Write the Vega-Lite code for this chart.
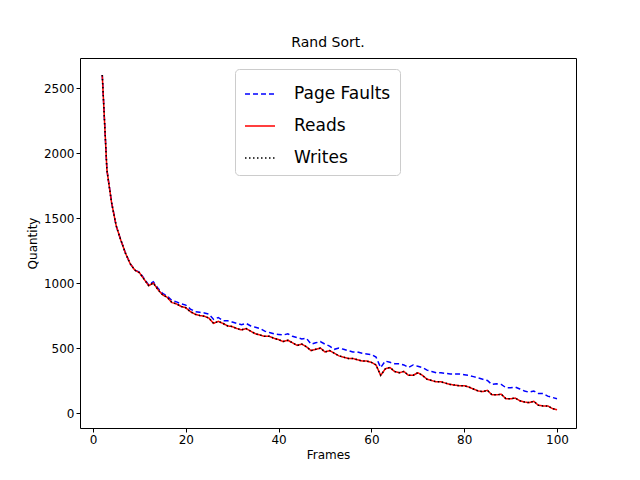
{
  "$schema": "https://vega.github.io/schema/vega-lite/v6.json",
  "autosize": "none",
  "width": 496,
  "height": 370,
  "padding": {"left": 80, "top": 58, "right": 64, "bottom": 52},
  "title": {"text": "Rand Sort.", "fontSize": 14, "fontWeight": "normal", "font": "DejaVu Sans", "offset": 8},
  "config": {
    "font": "DejaVu Sans",
    "view": {"stroke": "black", "strokeWidth": 1},
    "axis": {"grid": false, "domain": false, "tickColor": "black", "labelColor": "black", "labelFontSize": 12, "titleFontSize": 12, "titleFontWeight": "normal", "tickSize": 4}
  },
  "data": {
    "values": [
      {"f":2,"pf":2600,"r":2600},{"f":3,"pf":1870,"r":1870},{"f":4,"pf":1620,"r":1620},{"f":5,"pf":1440,"r":1440},
      {"f":6,"pf":1330,"r":1330},{"f":7,"pf":1230,"r":1230},{"f":8,"pf":1150,"r":1150},{"f":9,"pf":1100,"r":1100},
      {"f":10,"pf":1085,"r":1080},{"f":11,"pf":1035,"r":1030},{"f":12,"pf":985,"r":980},{"f":13,"pf":1010,"r":1000},
      {"f":14,"pf":960,"r":950},{"f":15,"pf":920,"r":910},{"f":16,"pf":900,"r":890},{"f":17,"pf":865,"r":850},
      {"f":18,"pf":855,"r":840},{"f":19,"pf":840,"r":820},{"f":20,"pf":830,"r":810},{"f":21,"pf":800,"r":780},
      {"f":22,"pf":780,"r":760},{"f":23,"pf":775,"r":750},{"f":24,"pf":770,"r":745},{"f":25,"pf":760,"r":730},
      {"f":26,"pf":720,"r":690},{"f":27,"pf":735,"r":705},{"f":28,"pf":710,"r":690},{"f":29,"pf":710,"r":670},
      {"f":30,"pf":700,"r":665},{"f":31,"pf":690,"r":650},{"f":32,"pf":680,"r":640},{"f":33,"pf":690,"r":650},
      {"f":34,"pf":670,"r":630},{"f":35,"pf":660,"r":610},{"f":36,"pf":650,"r":600},{"f":37,"pf":630,"r":590},
      {"f":38,"pf":620,"r":590},{"f":39,"pf":610,"r":575},{"f":40,"pf":605,"r":565},{"f":41,"pf":600,"r":550},
      {"f":42,"pf":610,"r":560},{"f":43,"pf":590,"r":540},{"f":44,"pf":580,"r":520},{"f":45,"pf":570,"r":530},
      {"f":46,"pf":575,"r":510},{"f":47,"pf":530,"r":480},{"f":48,"pf":540,"r":490},{"f":49,"pf":550,"r":500},
      {"f":50,"pf":530,"r":470},{"f":51,"pf":515,"r":480},{"f":52,"pf":490,"r":460},{"f":53,"pf":500,"r":440},
      {"f":54,"pf":490,"r":430},{"f":55,"pf":480,"r":420},{"f":56,"pf":470,"r":420},{"f":57,"pf":470,"r":410},
      {"f":58,"pf":460,"r":400},{"f":59,"pf":455,"r":400},{"f":60,"pf":450,"r":390},{"f":61,"pf":430,"r":370},
      {"f":62,"pf":350,"r":290},{"f":63,"pf":400,"r":340},{"f":64,"pf":390,"r":350},{"f":65,"pf":380,"r":320},
      {"f":66,"pf":380,"r":310},{"f":67,"pf":370,"r":320},{"f":68,"pf":350,"r":290},{"f":69,"pf":370,"r":290},
      {"f":70,"pf":360,"r":310},{"f":71,"pf":350,"r":290},{"f":72,"pf":330,"r":260},{"f":73,"pf":320,"r":250},
      {"f":74,"pf":310,"r":240},{"f":75,"pf":310,"r":240},{"f":76,"pf":305,"r":230},{"f":77,"pf":300,"r":220},
      {"f":78,"pf":300,"r":215},{"f":79,"pf":300,"r":210},{"f":80,"pf":295,"r":210},{"f":81,"pf":290,"r":200},
      {"f":82,"pf":280,"r":185},{"f":83,"pf":270,"r":170},{"f":84,"pf":260,"r":165},{"f":85,"pf":250,"r":175},
      {"f":86,"pf":220,"r":140},{"f":87,"pf":225,"r":140},{"f":88,"pf":220,"r":145},{"f":89,"pf":195,"r":110},
      {"f":90,"pf":195,"r":110},{"f":91,"pf":200,"r":115},{"f":92,"pf":185,"r":95},{"f":93,"pf":170,"r":85},
      {"f":94,"pf":160,"r":80},{"f":95,"pf":170,"r":90},{"f":96,"pf":150,"r":60},{"f":97,"pf":150,"r":55},
      {"f":98,"pf":130,"r":55},{"f":99,"pf":120,"r":35},{"f":100,"pf":110,"r":25}
    ]
  },
  "transform": [
    {"fold": ["pf", "r", "r"], "as": ["key", "value"]},
    {"window": [{"op": "row_number", "as": "rn"}]},
    {"calculate": "datum.key == 'pf' ? 'Page Faults' : (datum.rn % 3 == 2 ? 'Reads' : 'Writes')", "as": "series"}
  ],
  "mark": {"type": "line", "strokeWidth": 1.5, "clip": true},
  "encoding": {
    "x": {"field": "f", "type": "quantitative", "title": "Frames", "scale": {"domain": [-2.8, 104.1], "nice": false, "zero": false}, "axis": {"values": [0, 20, 40, 60, 80, 100]}},
    "y": {"field": "value", "type": "quantitative", "title": "Quantity", "scale": {"domain": [-115, 2731], "nice": false, "zero": false}, "axis": {"values": [0, 500, 1000, 1500, 2000, 2500], "format": "d"}},
    "color": {"field": "series", "type": "nominal", "scale": {"domain": ["Page Faults", "Reads", "Writes"], "range": ["blue", "red", "black"]},
      "legend": {"title": null, "orient": "none", "legendX": 155, "legendY": 11, "labelFontSize": 17, "symbolType": "stroke", "symbolSize": 900, "symbolStrokeWidth": 1.5, "rowPadding": 8, "padding": 9, "strokeColor": "#ccc", "fillColor": "white", "cornerRadius": 4, "labelOffset": 18}},
    "strokeDash": {"field": "series", "type": "nominal", "scale": {"domain": ["Page Faults", "Reads", "Writes"], "range": [[5, 3], [1, 0], [1.5, 2.5]]}, "legend": null},
    "order": {"field": "series"}
  }
}
